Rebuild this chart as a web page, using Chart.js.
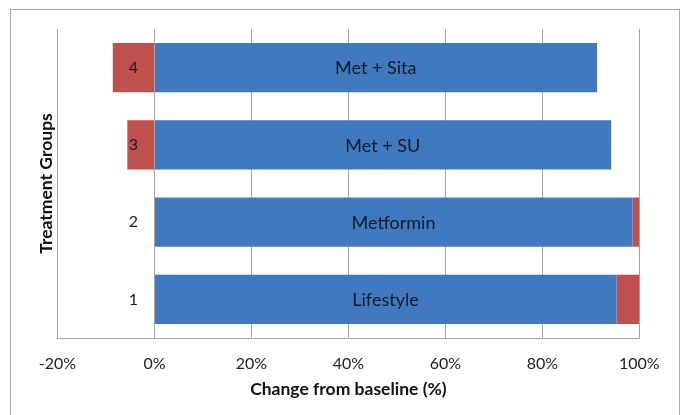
<!DOCTYPE html>
<html>
<head>
<meta charset="utf-8">
<script src="https://cdn.jsdelivr.net/npm/chart.js@4.4.1/dist/chart.umd.min.js"></script>
<style>
  html, body { margin: 0; padding: 0; background: #fff; }
  #wrap { position: relative; width: 686px; height: 415px; overflow: hidden; }
  #frame { position: absolute; left: 10px; top: 9px; width: 670px; height: 430px;
           border: 1px solid #a9a9a9; box-sizing: border-box; }
  canvas { position: absolute; left: 0; top: 0; }
</style>
</head>
<body>
<div id="wrap">
  <div id="frame"></div>
  <canvas id="chart" width="686" height="415"></canvas>
</div>
<script>
// Treatment groups, listed from top to bottom
const groups = ['4', '3', '2', '1'];
const treatments = ['Met + Sita', 'Met + SU', 'Metformin', 'Lifestyle'];
// Change from baseline (%)
const improvedValues = [91.3, 94.2, 98.6, 95.3];
const worsenedValues = [-8.6, -5.6, 1.4, 4.7];
const xTickValues = [-20, 0, 20, 40, 60, 80, 100];

const BLUE = '#4079bd';
const RED = '#c0504d';
const FONT = 'Lato, "Open Sans", sans-serif';

// Category numbers, bar captions and the vertical axis title
const labelPlugin = {
  id: 'groupLabels',
  afterDatasetsDraw(chart) {
    const { ctx, scales: { x, y } } = chart;
    ctx.save();
    ctx.textBaseline = 'middle';
    groups.forEach((g, i) => {
      const py = y.getPixelForValue(i);
      ctx.fillStyle = '#1b1b1b';
      ctx.font = '16px ' + FONT;
      ctx.textAlign = 'center';
      ctx.fillText(g, x.getPixelForValue(0) - 21, py);
      ctx.font = '18px ' + FONT;
      const cx = (x.getPixelForValue(0) + x.getPixelForValue(improvedValues[i])) / 2;
      ctx.fillStyle = '#0f1a2a';
      ctx.fillText(treatments[i], cx, py + 1);
    });
    ctx.fillStyle = '#111';
    ctx.translate(46, (chart.chartArea.top + chart.chartArea.bottom) / 2);
    ctx.rotate(-Math.PI / 2);
    ctx.font = 'bold 17.5px ' + FONT;
    ctx.textAlign = 'center';
    ctx.fillText('Treatment Groups', 0, 0);
    ctx.restore();
  }
};

new Chart(document.getElementById('chart'), {
  type: 'bar',
  data: {
    labels: groups,
    datasets: [
      { data: improvedValues, backgroundColor: BLUE, borderWidth: 0 },
      { data: worsenedValues, backgroundColor: RED, borderWidth: 0 }
    ]
  },
  options: {
    indexAxis: 'y',
    responsive: false,
    animation: false,
    devicePixelRatio: 1,
    barPercentage: 0.635,
    categoryPercentage: 1,
    layout: { padding: { left: 57.5, right: 46.7, top: 29, bottom: 0 } },
    plugins: { legend: { display: false }, tooltip: { enabled: false } },
    scales: {
      y: { stacked: true, display: false },
      x: {
        stacked: true,
        min: -20,
        max: 100,
        afterBuildTicks: s => { s.ticks = xTickValues.map(v => ({ value: v })); },
        afterFit: s => { s.height = 77; },
        grid: { color: '#a6a6a6', lineWidth: 1, drawTicks: false },
        border: { display: true, color: '#a6a6a6' },
        ticks: {
          padding: 16,
          color: '#222',
          font: { family: FONT, size: 16 },
          callback: v => v + '%'
        },
        title: {
          display: true,
          text: 'Change from baseline (%)',
          color: '#111',
          font: { family: FONT, size: 17.5, weight: 'bold' },
          padding: { top: 0, bottom: 15 }
        }
      }
    }
  },
  plugins: [labelPlugin]
});
</script>
</body>
</html>
